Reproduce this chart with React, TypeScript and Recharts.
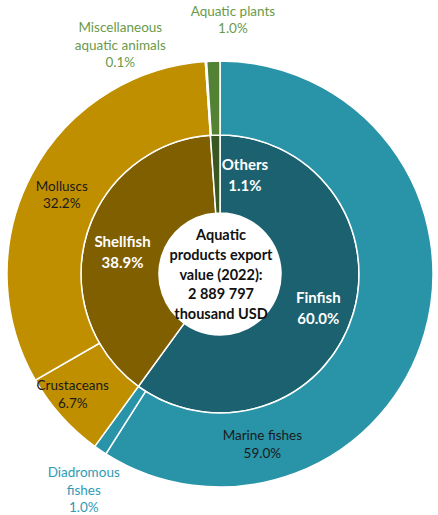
import React from "react";
import { PieChart, Pie, Cell, Label } from "recharts";

// ---- data ----
const groupNames = ["Finfish", "Shellfish", "Others"];
const groupValues = [60.0, 38.9, 1.1];

const itemNames = [
  "Marine fishes",
  "Diadromous fishes",
  "Crustaceans",
  "Molluscs",
  "Miscellaneous aquatic animals",
  "Aquatic plants",
];
const itemValues = [59.0, 1.0, 6.7, 32.2, 0.1, 1.0];

const centerLines = [
  "Aquatic",
  "products export",
  "value (2022):",
  "2 889 797",
  "thousand USD",
];

// label lines (text split for wrapping)
const groupLabelLines = [["Finfish"], ["Shellfish"], ["Others"]];
const itemLabelLines = [
  ["Marine fishes"],
  ["Diadromous", "fishes"],
  ["Crustaceans"],
  ["Molluscs"],
  ["Miscellaneous", "aquatic animals"],
  ["Aquatic plants"],
];

// ---- styles / layout ----
const groupColors = ["#1B6170", "#7F5F00", "#385723"];
const itemColors = ["#2993A8", "#2993A8", "#BF8F00", "#BF8F00", "#E2EFDA", "#548235"];
const itemTextColors = ["#1a1a1a", "#2E9BB4", "#1a1a1a", "#1a1a1a", "#6A9A4A", "#6A9A4A"];
// label placement: angle clockwise from 12 o'clock (deg), distance from centre (px)
const groupLabelPolar = [
  { a: 109, r: 104 },
  { a: 283, r: 100 },
  { a: 14, r: 103 },
];
const itemLabelPolar = [
  { a: 166, r: 175 },
  { a: 212.3, r: 255 },
  { a: 230.8, r: 190 },
  { a: 296.6, r: 177 },
  { a: 336.5, r: 250 },
  { a: 2.9, r: 255 },
];

const FONT = "Lato, 'Noto Sans', sans-serif";
const CX = 220;
const CY = 274;

const groupData = groupNames.map((name, i) => ({ name, value: groupValues[i] }));
const itemData = itemNames.map((name, i) => ({ name, value: itemValues[i] }));

function polar(cx: number, cy: number, a: number, r: number) {
  const rad = (a * Math.PI) / 180;
  return { x: cx + r * Math.sin(rad), y: cy - r * Math.cos(rad) };
}

function MultiLine({
  x,
  y,
  lines,
  fill,
  size,
  weight,
  lh,
}: {
  x: number;
  y: number;
  lines: string[];
  fill: string;
  size: number;
  weight: number | string;
  lh: number;
}) {
  const start = y - ((lines.length - 1) * lh) / 2;
  return (
    <g>
      {lines.map((t, k) => (
        <text
          key={k}
          x={x}
          y={start + k * lh}
          textAnchor="middle"
          dominantBaseline="central"
          fill={fill}
          fontSize={size}
          fontWeight={weight}
          fontFamily={FONT}
        >
          {t}
        </text>
      ))}
    </g>
  );
}

const renderGroupLabel = (props: any) => {
  const i = props.index;
  const p = polar(Number(props.cx), Number(props.cy), groupLabelPolar[i].a, groupLabelPolar[i].r);
  const lines = [...groupLabelLines[i], `${groupValues[i].toFixed(1)}%`];
  return <MultiLine key={`g${i}`} x={p.x} y={p.y} lines={lines} fill="#ffffff" size={15} weight={700} lh={21} />;
};

const renderItemLabel = (props: any) => {
  const i = props.index;
  const p = polar(Number(props.cx), Number(props.cy), itemLabelPolar[i].a, itemLabelPolar[i].r);
  const lines = [...itemLabelLines[i], `${itemValues[i].toFixed(1)}%`];
  return <MultiLine key={`i${i}`} x={p.x} y={p.y} lines={lines} fill={itemTextColors[i]} size={13.5} weight={400} lh={17.5} />;
};

const renderCenter = (props: any) => {
  const vb = props.viewBox || {};
  const cx = Number(vb.cx ?? CX);
  const cy = Number(vb.cy ?? CY);
  return <MultiLine x={cx + 1} y={cy} lines={centerLines} fill="#111111" size={14.5} weight={700} lh={19.6} />;
};

export default function App() {
  return (
    <div style={{ position: "absolute", left: 0, top: 0, width: 438, height: 515, background: "#fff" }}>
      <PieChart width={438} height={515} margin={{ top: 0, right: 0, bottom: 0, left: 0 }}>
        <Pie
          data={groupData}
          dataKey="value"
          nameKey="name"
          cx={CX}
          cy={CY}
          innerRadius={61}
          outerRadius={139}
          startAngle={90}
          endAngle={-270}
          stroke="#ffffff"
          strokeWidth={1.5}
          label={renderGroupLabel}
          labelLine={false}
          isAnimationActive={false}
        >
          {groupData.map((d, i) => (
            <Cell key={d.name} fill={groupColors[i]} />
          ))}
          <Label position="center" content={renderCenter} />
        </Pie>
        <Pie
          data={itemData}
          dataKey="value"
          nameKey="name"
          cx={CX}
          cy={CY}
          innerRadius={139}
          outerRadius={213}
          startAngle={90}
          endAngle={-270}
          stroke="#ffffff"
          strokeWidth={1.5}
          label={renderItemLabel}
          labelLine={false}
          isAnimationActive={false}
        >
          {itemData.map((d, i) => (
            <Cell key={d.name} fill={itemColors[i]} />
          ))}
        </Pie>
      </PieChart>
    </div>
  );
}
